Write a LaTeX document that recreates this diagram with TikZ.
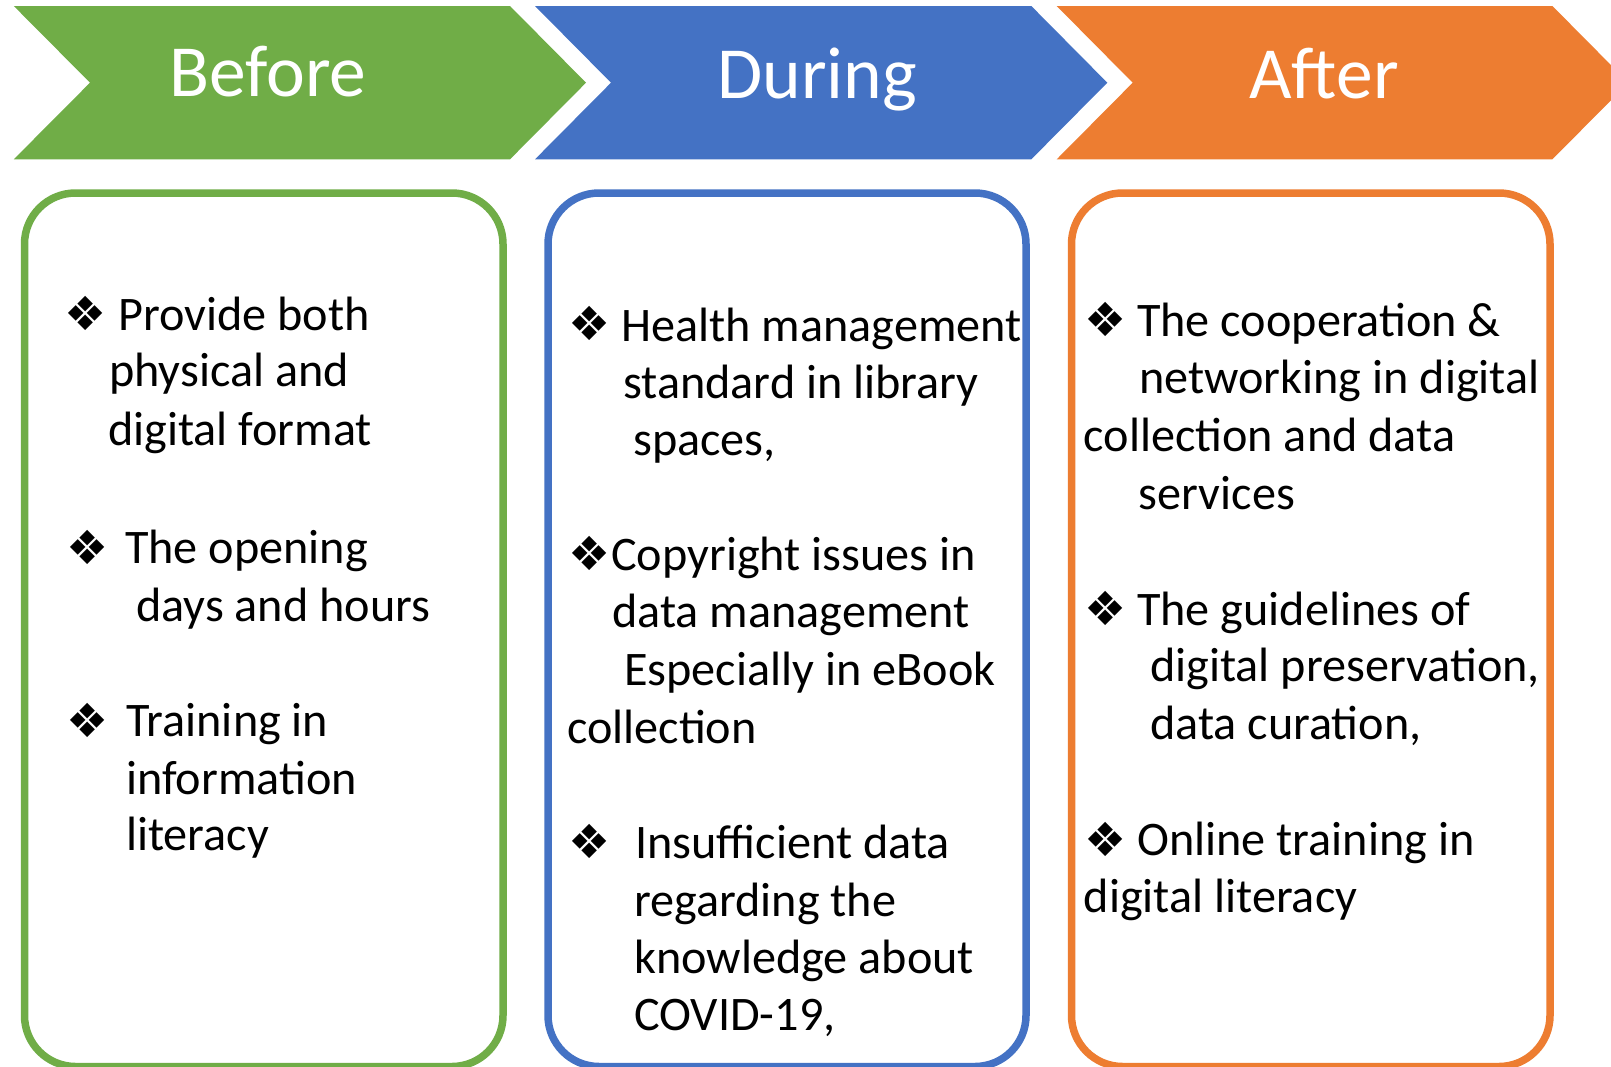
\documentclass[tikz,border=0pt]{standalone}
\usepackage{fontspec}
\setmainfont{Carlito}
\newfontfamily\bulletfont{DejaVu Sans}
\definecolor{cgreen}{HTML}{70AD47}
\definecolor{cblue}{HTML}{4472C4}
\definecolor{corange}{HTML}{ED7D31}
\begin{document}
\begin{tikzpicture}[x=1pt,y=-1pt,
  title/.style={text=white,font=\fontsize{73.5}{80}\selectfont,anchor=base,inner sep=0pt},
  txt/.style={anchor=base west,inner sep=0pt,font=\fontsize{48.2}{56}\selectfont},
  bul/.style={anchor=center,inner sep=0pt,font=\bulletfont\fontsize{47}{47}\selectfont},
  panel/.style={line width=7.5pt,rounded corners=51pt}]
\clip (0,0) rectangle (1611,1066);
\fill[white] (0,0) rectangle (1611,1066);
% chevrons
\fill[cgreen] (13.8,6) -- (510,6) -- (586,82.7) -- (510,159.3) -- (13.8,159.3) -- (90,82.7) -- cycle;
\fill[cblue] (535,6) -- (1031.3,6) -- (1107.3,82.7) -- (1031.3,159.3) -- (535,159.3) -- (611,82.7) -- cycle;
\fill[corange] (1056.7,6) -- (1552.4,6) -- (1628.4,82.7) -- (1552.4,159.3) -- (1056.7,159.3) -- (1132.7,82.7) -- cycle;
\node[title] (tBefore) at (268,96) {Before};
\node[title] (tDuring) at (817,98.7) {During};
\node[title] (tAfter) at (1324,98.7) {After};
% panels
\draw[panel,cgreen] (24.5,193) rectangle (503,1066.5);
\draw[panel,cblue] (548,193) rectangle (1026,1066.5);
\draw[panel,corange] (1071.5,193) rectangle (1550,1066.5);
% green text
\node[bul] (gb1) at (86,313) {❖};
\node[txt] (g1a) at (118,330) {Provide both};
\node[txt] (g1b) at (109,386.7) {physical and};
\node[txt] (g1c) at (108,445) {digital format};
\node[bul] (gb2) at (87.5,547) {❖};
\node[txt] (g2a) at (125,563) {The opening};
\node[txt] (g2b) at (136,621.7) {days and hours};
\node[bul] (gb3) at (88,720) {❖};
\node[txt] (g3a) at (126,736.7) {Training in};
\node[txt] (g3b) at (126,794) {information};
\node[txt] (g3c) at (126,850.7) {literacy};
% blue text
\node[bul] (bb1) at (589.7,323.7) {❖};
\node[txt] (b1a) at (621,341.7) {Health management};
\node[txt] (b1b) at (623,398.3) {standard in library};
\node[txt] (b1c) at (633,455) {spaces,};
\node[bul] (bb2) at (589.7,553) {❖};
\node[txt] (b2a) at (611,570) {Copyright issues in};
\node[txt] (b2b) at (612,627.3) {data management};
\node[txt] (b2c) at (624,685) {Especially in eBook};
\node[txt] (b2d) at (567,743.3) {collection};
\node[bul] (bb3) at (589.7,841.7) {❖};
\node[txt] (b3a) at (635,858.3) {Insufficient data};
\node[txt] (b3b) at (634,916) {regarding the};
\node[txt] (b3c) at (634,973.3) {knowledge about};
\node[txt] (b3d) at (634,1030.7) {COVID-19,};
% orange text
\node[bul] (ob1) at (1106,319.7) {❖};
\node[txt] (o1a) at (1137,336.7) {The cooperation \&};
\node[txt] (o1b) at (1139,393.3) {networking in digital};
\node[txt] (o1c) at (1083.5,451.7) {collection and data};
\node[txt] (o1d) at (1138.5,509.3) {services};
\node[bul] (ob2) at (1106,608) {❖};
\node[txt] (o2a) at (1137,625) {The guidelines of};
\node[txt] (o2b) at (1150,681.7) {digital preservation,};
\node[txt] (o2c) at (1150,739.3) {data curation,};
\node[bul] (ob3) at (1106,839) {❖};
\node[txt] (o3a) at (1137,855) {Online training in};
\node[txt] (o3b) at (1083.5,912.7) {digital literacy};
\end{tikzpicture}
\end{document}
